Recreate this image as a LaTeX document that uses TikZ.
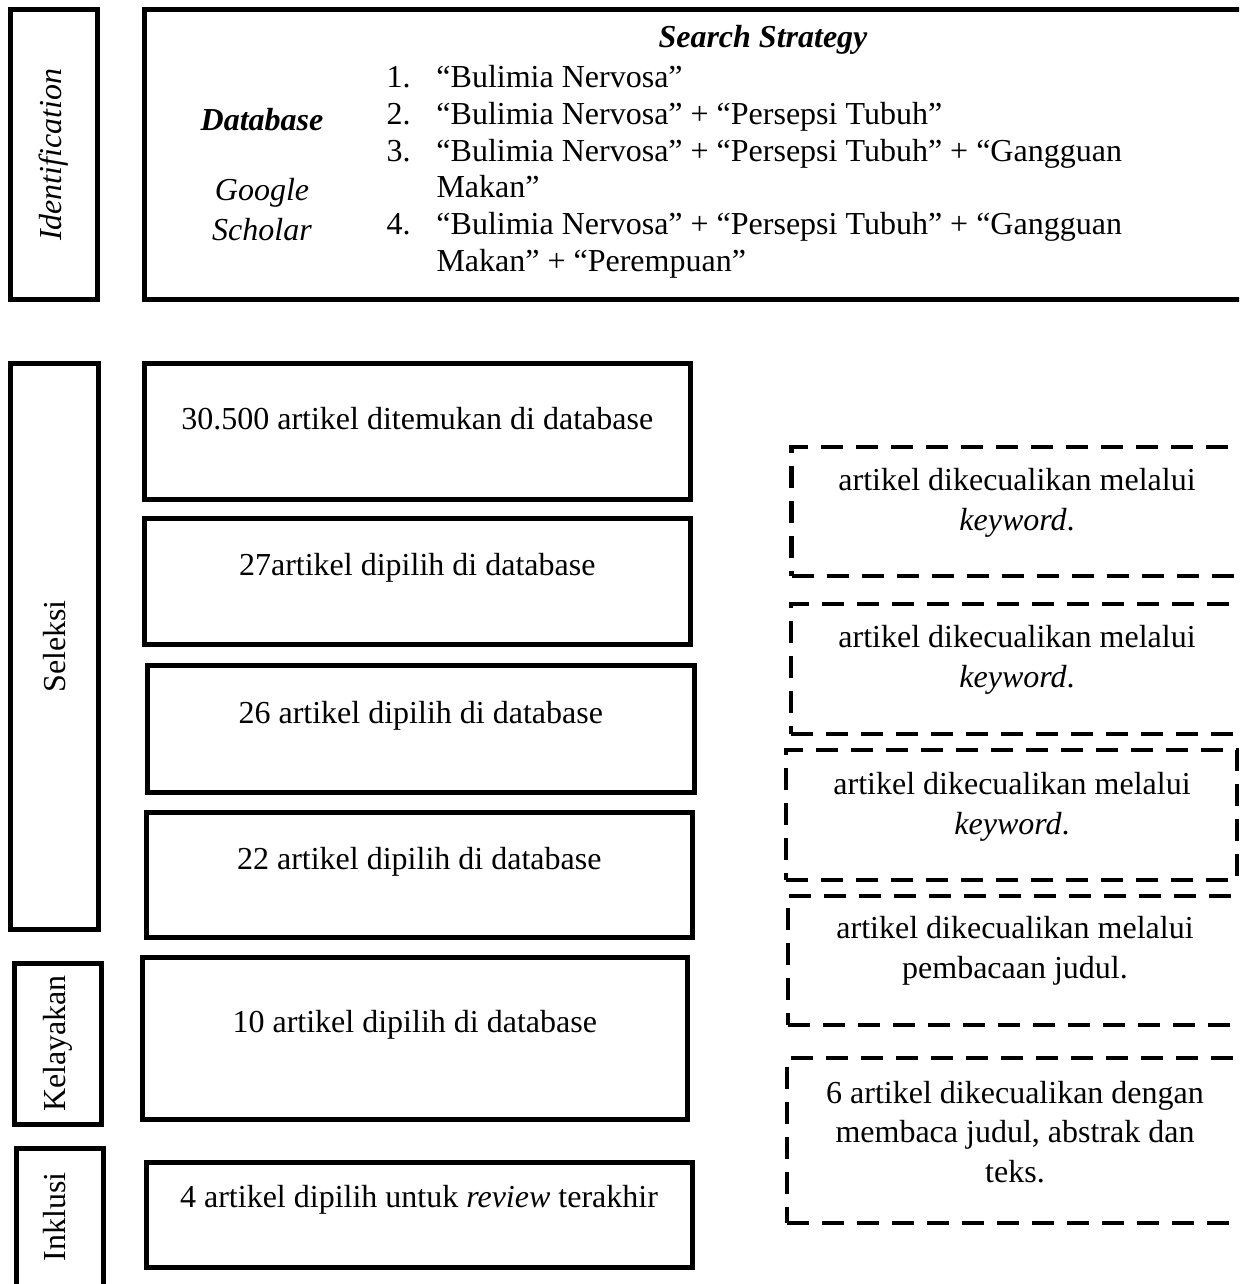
\documentclass[tikz,border=0pt]{standalone}
\usepackage{fontspec}
\setmainfont{Liberation Serif}
\usepackage{xcolor}
\definecolor{cLine}{HTML}{000000}
\usepackage{tikz}
\usetikzlibrary{positioning,fit,calc}
\tikzset{
  stage-box/.style={draw=cLine,line width=2pt,inner sep=0pt},
  step-box/.style={draw=cLine,line width=2pt,inner sep=0pt},
  drop-box/.style={draw=cLine,line width=1.8pt,dash pattern=on 8.8pt off 5.2pt,inner sep=0pt},
  stage-text/.style={rotate=90,inner sep=0pt},
  step-text/.style={align=center,inner sep=0pt},
  every node/.style={font=\fontsize{12.8}{15.8}\selectfont},
}

\begin{document}
\begin{tikzpicture}[x=0.4pt,y=-0.4pt]
  \useasboundingbox (0,0) rectangle (1239,1284);
  \clip (0,0) rectangle (1239,1284);
  % identification
  \node[stage-box,fit={(10.5,10) (97.5,299.5)}] (ident) {};
  \node[stage-text] (ident-t) at (ident) {\textit{Identification}};
  \node[stage-box,fit={(144.5,10) (1260,299.5)}] (search) {};
  \node[step-text] (db-t) at (262,120) {\textbf{\textit{Database}}};
  \node[step-text,font=\fontsize{12.8}{16}\selectfont] (gs-t) at (262,210) {\textit{Google}\\\textit{Scholar}};
  \node[step-text] (strat-t) at (763,40) {\textbf{\textit{Search Strategy}}};
  \node[anchor=north west,inner sep=0pt,font=\fontsize{12.8}{14.7}\selectfont] (keys-t) at (386,61.5) {%
    \begin{tabular}{@{}r@{\hspace{10.4pt}}l@{}}
      1. & “Bulimia Nervosa” \\
      2. & “Bulimia Nervosa” + “Persepsi Tubuh” \\
      3. & “Bulimia Nervosa” + “Persepsi Tubuh” + “Gangguan \\
         & Makan” \\
      4. & “Bulimia Nervosa” + “Persepsi Tubuh” + “Gangguan \\
         & Makan” + “Perempuan”
    \end{tabular}};
  % stages
  \node[stage-box,fit={(10.5,364) (98,929)}] (select) {};
  \node[stage-text] (select-t) at (select) {Seleksi};
  \node[stage-box,fit={(14,963) (101.5,1124)}] (elig) {};
  \node[stage-text] (elig-t) at (elig) {Kelayakan};
  \node[stage-box,fit={(16,1148.5) (103.5,1300)}] (incl) {};
  \node[stage-text] (incl-t) at (55,1217) {Inklusi};
  % steps
  \node[step-box,fit={(144,364) (690.5,499)}] (found) {};
  \node[step-text] (found-t) at ($(found)+(0,-13)$) {30.500 artikel ditemukan di database};
  \node[step-box,fit={(144,518.5) (690.5,644)}] (pick27) {};
  \node[step-text] (pick27-t) at ($(pick27)+(0,-13)$) {27artikel dipilih di database};
  \node[step-box,fit={(147.5,665) (694,792.5)}] (pick26) {};
  \node[step-text] (pick26-t) at ($(pick26)+(0,-13)$) {26 artikel dipilih di database};
  \node[step-box,fit={(146,812) (692.5,937.5)}] (pick22) {};
  \node[step-text] (pick22-t) at ($(pick22)+(0,-13)$) {22 artikel dipilih di database};
  \node[step-box,fit={(142,957.5) (687.5,1119)}] (pick10) {};
  \node[step-text] (pick10-t) at ($(pick10)+(0,-13)$) {10 artikel dipilih di database};
  \node[step-box,fit={(146,1162.5) (692,1267)}] (pick4) {};
  \node[step-text] (pick4-t) at ($(pick4)+(0,-15)$) {4 artikel dipilih untuk \textit{review} terakhir};
  % exclusions
  \node[drop-box,fit={(791.5,447) (1260,576)}] (drop1) {};
  \node[step-text] (drop1-t) at (1017,503) {artikel dikecualikan melalui\\\textit{keyword}.};
  \node[drop-box,fit={(791,604) (1260,734)}] (drop2) {};
  \node[step-text] (drop2-t) at (1017,660) {artikel dikecualikan melalui\\\textit{keyword}.};
  \node[drop-box,fit={(786,750) (1237,880)}] (drop3) {};
  \node[step-text] (drop3-t) at (1012,807) {artikel dikecualikan melalui\\\textit{keyword}.};
  \node[drop-box,fit={(788,896) (1260,1025)}] (drop4) {};
  \node[step-text] (drop4-t) at (1015,951) {artikel dikecualikan melalui\\pembacaan judul.};
  \node[drop-box,fit={(787,1058) (1260,1223)}] (drop5) {};
  \node[step-text] (drop5-t) at (1015,1132) {6 artikel dikecualikan dengan\\membaca judul, abstrak dan\\teks.};
\end{tikzpicture}
\end{document}
